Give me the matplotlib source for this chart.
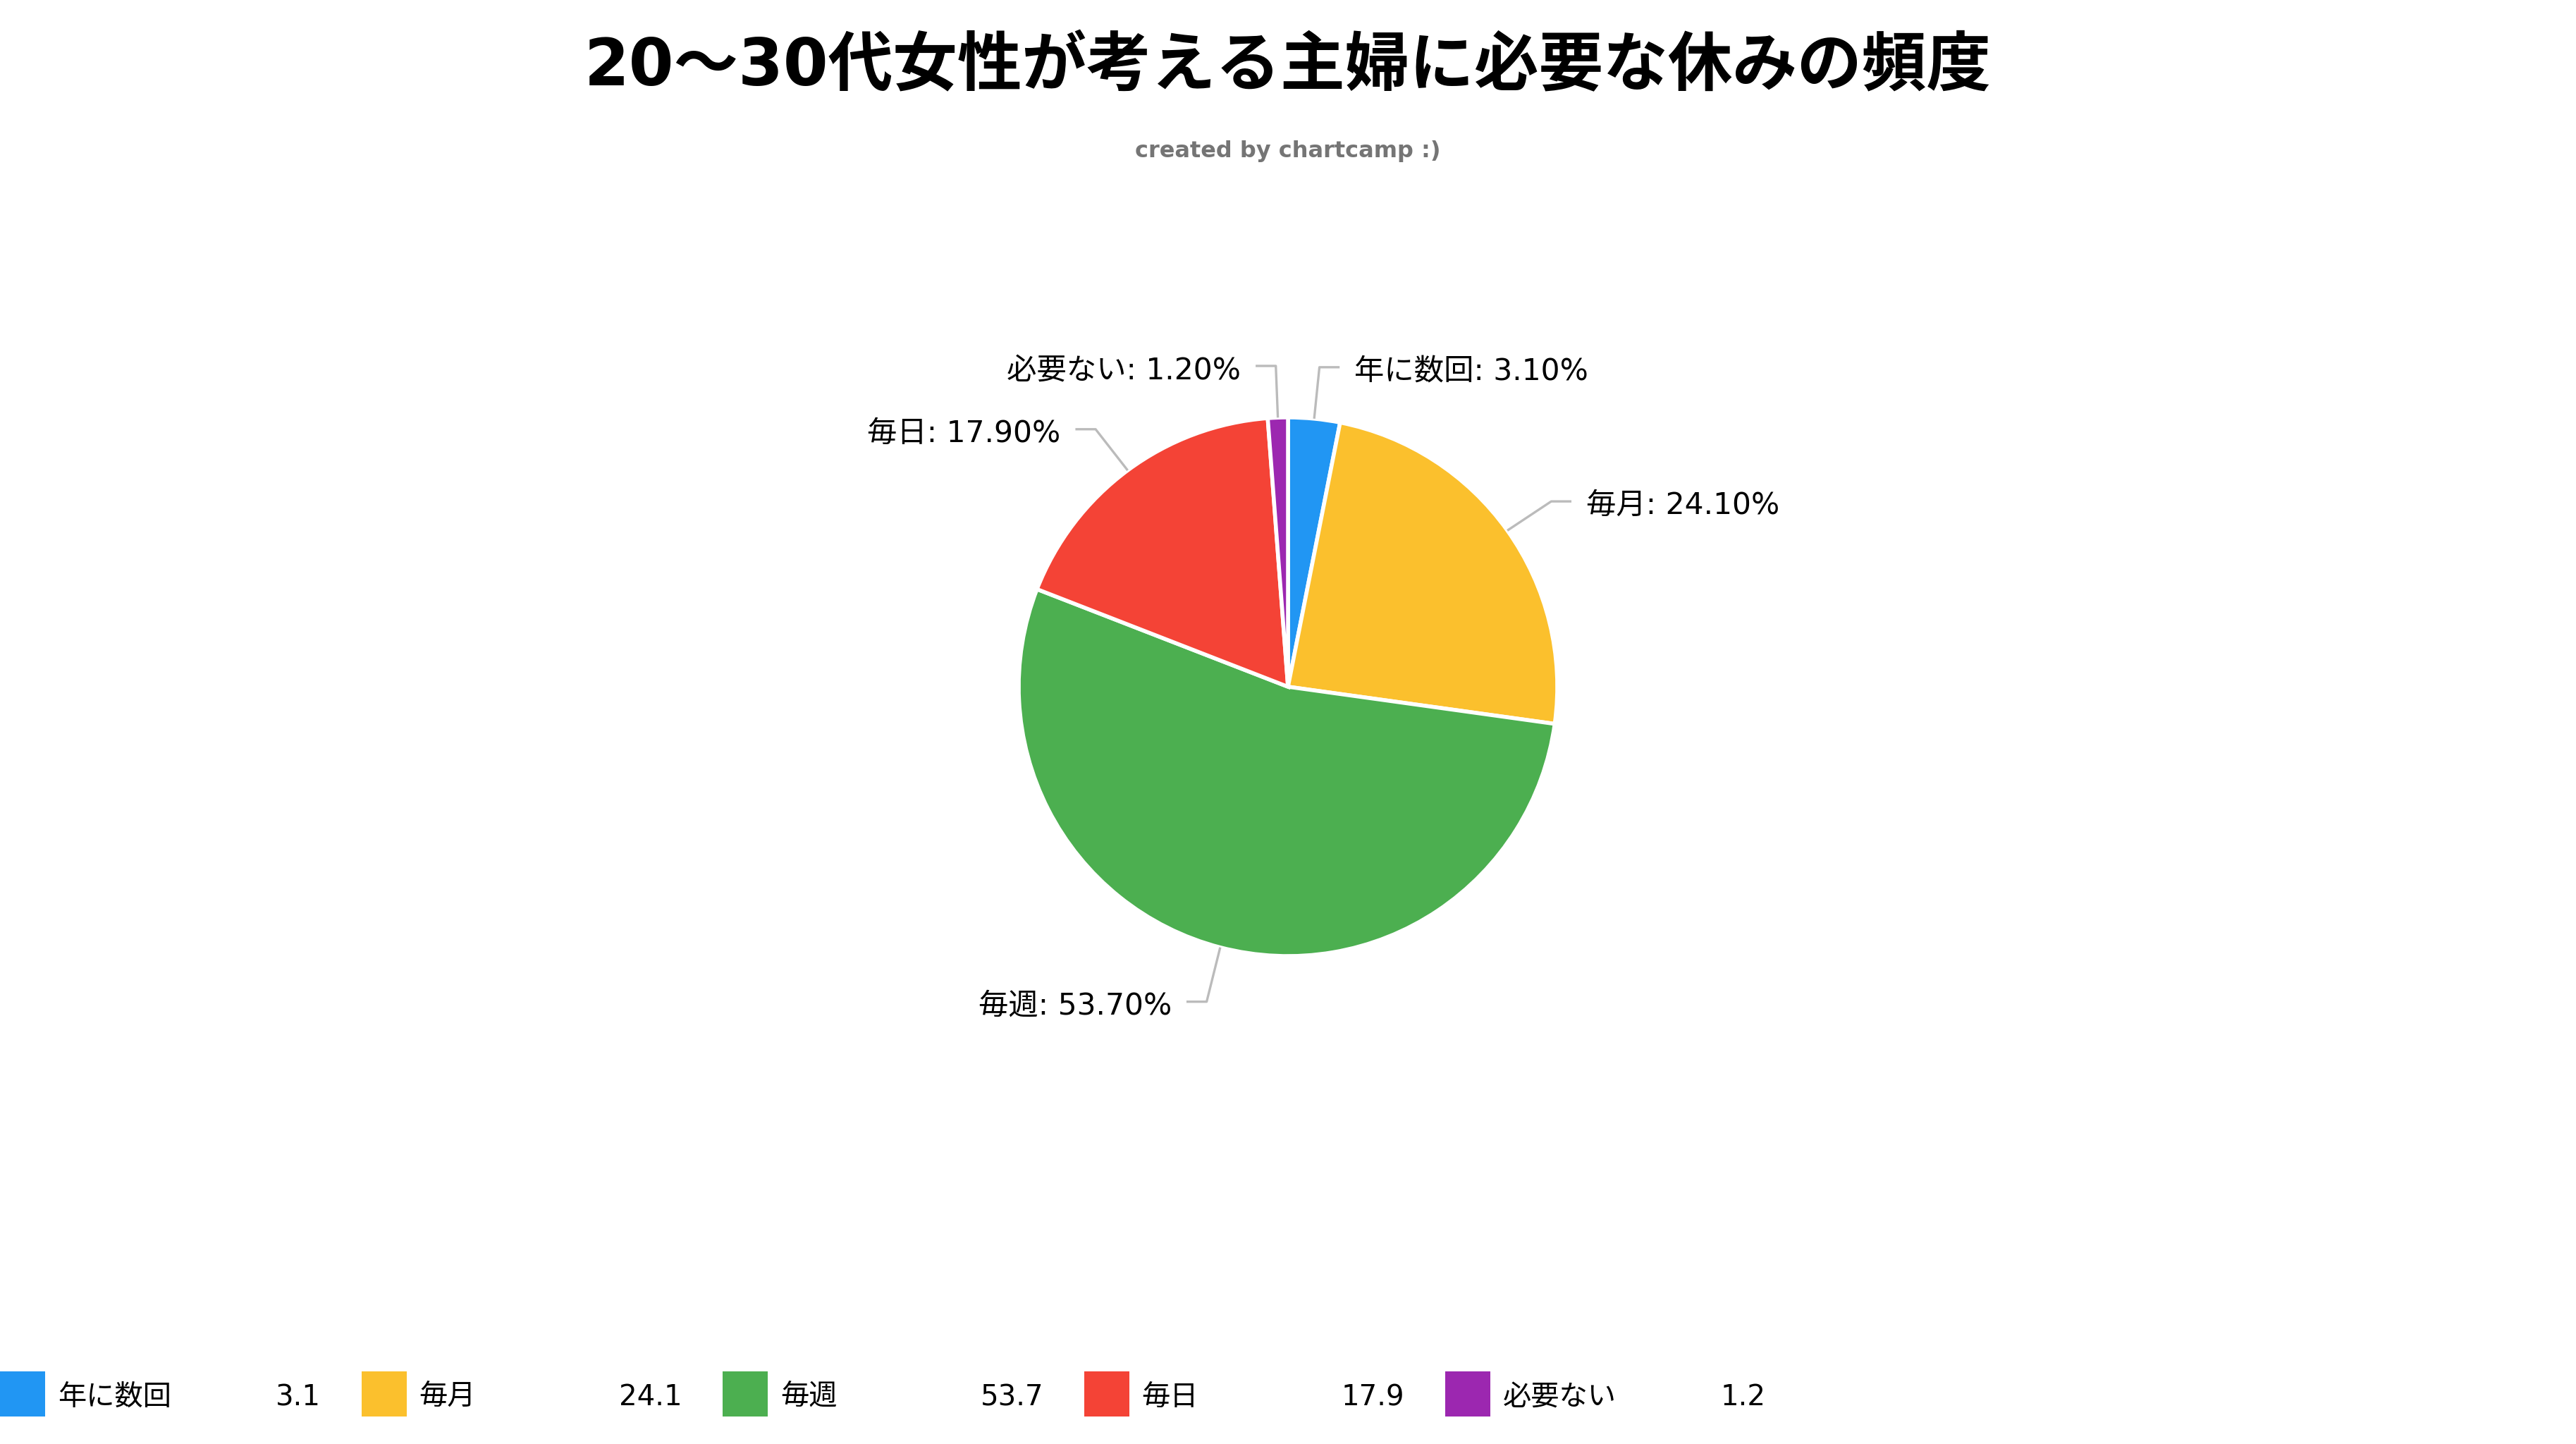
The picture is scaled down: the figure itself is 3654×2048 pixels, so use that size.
import numpy as np
import matplotlib.pyplot as plt
from matplotlib.patches import Rectangle

categories = ["年に数回", "毎月", "毎週", "毎日", "必要ない"]
values = [3.1, 24.1, 53.7, 17.9, 1.2]
colors = ["#2196F3", "#FBC02D", "#4CAF50", "#F44336", "#9C27B0"]

TITLE = "20～30代女性が考える主婦に必要な休みの頻度"
SUBTITLE = "created by chartcamp :)"

plt.rcParams["font.family"] = ["DejaVu Sans", "Noto Sans CJK JP"]

W, H, DPI = 3654, 2048, 100
fig = plt.figure(figsize=(W / DPI, H / DPI), dpi=DPI)

# pie placement in pixels (from top-left)
cx, cy, R = 1827, 974, 382
lim = 1.6
half = lim * R
ax = fig.add_axes([(cx - half) / W, (H - cy - half) / H, 2 * half / W, 2 * half / H])

wedges, _ = ax.pie(values, colors=colors, startangle=90, counterclock=False, radius=1,
                   wedgeprops=dict(edgecolor="white", linewidth=4))
ax.set_xlim(-lim, lim)
ax.set_ylim(-lim, lim)
ax.axis("off")

# leader lines + labels
for w, cat, v in zip(wedges, categories, values):
    ang = np.deg2rad((w.theta1 + w.theta2) / 2)
    x, y = np.cos(ang), np.sin(ang)
    side = 1 if x >= 0 else -1
    ex, ey = 1.2 * x, 1.2 * y - 0.008
    hx = ex + side * 0.075
    ax.plot([x * 1.0, ex, hx], [y * 1.0, ey, ey], color="#bbbbbb", lw=2.4,
            solid_capstyle="butt", clip_on=False)
    ax.text(hx + side * 0.055, ey - 0.016, f"{cat}: {v:.2f}%",
            ha="left" if side > 0 else "right",
            va="center", fontsize=30.5, color="black")

fig.text(0.5, 1 - 95 / H, TITLE, ha="center", va="center", fontsize=66, fontweight="bold")
fig.text(0.5, 1 - 214 / H, SUBTITLE, ha="center", va="center", fontsize=23,
         fontweight="bold", color="#757575")

# legend along the bottom
step = 512.5
for i, (cat, v, c) in enumerate(zip(categories, values, colors)):
    x0 = i * step
    fig.add_artist(Rectangle((x0 / W, (H - 2009) / H), 64 / W, 64 / H,
                             transform=fig.transFigure, color=c, lw=0))
    fig.text((x0 + 82) / W, 1 - 1982 / H, cat, ha="left", va="center", fontsize=29)
    fig.text((x0 + 455) / W, 1 - 1982 / H, f"{v}", ha="right", va="center", fontsize=29)

fig.savefig("out.png", dpi=DPI)
